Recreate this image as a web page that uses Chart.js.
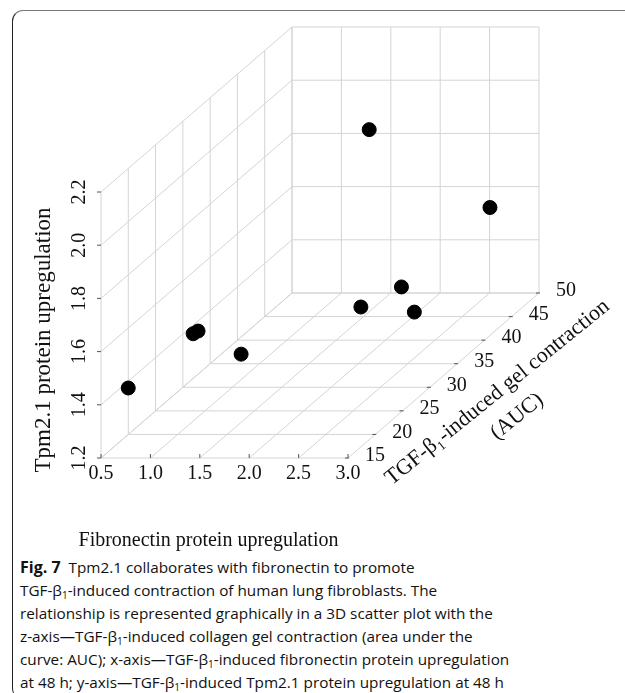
<!DOCTYPE html>
<html>
<head>
<meta charset="utf-8">
<script src="https://cdn.jsdelivr.net/npm/chart.js@4.4.0/dist/chart.umd.min.js"></script>
<style>
  body { margin: 0; background: #fff; width: 625px; height: 693px; overflow: hidden; position: relative; }
  #frame { position: absolute; left: 12px; top: 10px; width: 700px; height: 688px;
           border-left: 1.5px solid #222; border-top: 1.5px solid #777; border-radius: 11px 0 0 11px; }
  #chart { position: absolute; left: 0; top: 0; }
  #caption { position: absolute; left: 20px; top: 556px; font-family: "Open Sans", sans-serif;
             font-size: 15.3px; line-height: 23px; color: #111; white-space: nowrap; }
  #caption b { font-weight: 700; font-size: 16px; }
  #caption sub { font-size: 10px; vertical-align: -3px; line-height: 0; }
</style>
</head>
<body>
<div id="frame"></div>
<canvas id="chart" width="625" height="555"></canvas>
<div id="caption">
  <b>Fig. 7</b>&nbsp; Tpm2.1 collaborates with fibronectin to promote<br>
  TGF-β<sub>1</sub>-induced contraction of human lung fibroblasts. The<br>
  relationship is represented graphically in a 3D scatter plot with the<br>
  z-axis—TGF-β<sub>1</sub>-induced collagen gel contraction (area under the<br>
  curve: AUC); x-axis—TGF-β<sub>1</sub>-induced fibronectin protein upregulation<br>
  at 48 h; y-axis—TGF-β<sub>1</sub>-induced Tpm2.1 protein upregulation at 48 h
</div>
<script>
// values (x: fibronectin, y: Tpm2.1, z: gel contraction AUC)
const fibronectin = [2.11, 2.78, 2.16, 1.86, 2.18, 0.88, 0.93, 1.20, 0.61]
const tpm21 = [2.08, 1.61, 1.40, 1.36, 1.27, 1.49, 1.50, 1.36, 1.41]
const auc = [35, 45, 40, 38, 42, 25, 25, 28, 18]

const xTicks = [0.5, 1.0, 1.5, 2.0, 2.5, 3.0]
const yTicks = [1.2, 1.4, 1.6, 1.8, 2.0, 2.2]
const zTicks = [15, 20, 25, 30, 35, 40, 45, 50]

const xMin = 0.5, xMax = 3.0, yMin = 1.2, yMax = 2.2, zMin = 15, zMax = 50
// oblique projection: depth (z) pushes up and to the right
const depthX = 191 / 247, depthY = 165 / 266
const projU = (x, z) => (x - xMin) / (xMax - xMin) + depthX * (z - zMin) / (zMax - zMin)
const projV = (y, z) => (y - yMin) / (yMax - yMin) + depthY * (z - zMin) / (zMax - zMin)

const points = fibronectin.map((x, i) => ({ x: projU(x, auc[i]), y: projV(tpm21[i], auc[i]) }))

const serif = '"Liberation Serif", "Times New Roman", serif'

const box3d = {
  id: 'box3d',
  beforeDatasetsDraw(chart) {
    const ctx = chart.ctx
    const sx = chart.scales.x, sy = chart.scales.y
    const P = (x, y, z) => [sx.getPixelForValue(projU(x, z)), sy.getPixelForValue(projV(y, z))]
    const line = (a, b, color, w) => {
      ctx.beginPath()
      ctx.strokeStyle = color
      ctx.lineWidth = w || 1
      ctx.moveTo(a[0], a[1])
      ctx.lineTo(b[0], b[1])
      ctx.stroke()
    }
    const grid = '#d4d4d4'
    ctx.save()
    // back wall (z = max)
    xTicks.forEach(x => line(P(x, yMin, zMax), P(x, yMax, zMax), grid))
    yTicks.forEach(y => line(P(xMin, y, zMax), P(xMax, y, zMax), grid))
    // left wall (x = min)
    zTicks.forEach(z => line(P(xMin, yMin, z), P(xMin, yMax, z), grid))
    yTicks.forEach(y => line(P(xMin, y, zMin), P(xMin, y, zMax), grid))
    // floor (y = min)
    xTicks.forEach(x => line(P(x, yMin, zMin), P(x, yMin, zMax), grid))
    zTicks.forEach(z => line(P(xMin, yMin, z), P(xMax, yMin, z), grid))

    // tick marks
    const tick = '#555'
    xTicks.forEach(x => { const p = P(x, yMin, zMin); line([p[0], p[1]], [p[0], p[1] - 4], tick) })
    yTicks.forEach(y => { const p = P(xMin, y, zMin); line([p[0] - 4, p[1]], [p[0], p[1]], tick) })
    zTicks.forEach(z => { const p = P(xMax, yMin, z); line([p[0] - 3, p[1]], [p[0] + 1, p[1]], tick) })

    // tick labels
    ctx.fillStyle = '#111'
    ctx.font = '20px ' + serif
    ctx.textAlign = 'center'
    ctx.textBaseline = 'middle'
    xTicks.forEach(x => { const p = P(x, yMin, zMin); ctx.fillText(x.toFixed(1), p[0], p[1] + 16) })
    yTicks.forEach(y => {
      const p = P(xMin, y, zMin)
      ctx.save(); ctx.translate(p[0] - 21, p[1]); ctx.rotate(-Math.PI / 2)
      ctx.fillText(y.toFixed(1), 0, 0); ctx.restore()
    })
    ctx.textAlign = 'left'
    zTicks.forEach(z => { const p = P(xMax, yMin, z); ctx.fillText(String(z), p[0] + 17, p[1] - 2) })

    // axis titles
    ctx.textAlign = 'center'
    ctx.font = '20px ' + serif
    const xl = P((xMin + xMax) / 2, yMin, zMin)
    ctx.fillText('Fibronectin protein upregulation', xl[0] - 16, xl[1] + 83)
    const yl = P(xMin, (yMin + yMax) / 2, zMin)
    ctx.save(); ctx.translate(yl[0] - 57, yl[1] + 15); ctx.rotate(-Math.PI / 2)
    ctx.font = '23px ' + serif
    ctx.fillText('Tpm2.1 protein upregulation', 0, 0); ctx.restore()
    const zl = P(xMax, yMin, (zMin + zMax) / 2)
    ctx.save(); ctx.translate(zl[0] + 54, zl[1] + 17); ctx.rotate(-39 * Math.PI / 180)
    ctx.font = '22px ' + serif
    ctx.fillText('TGF-β₁-induced gel contraction', 0, 0)
    ctx.fillText('(AUC)', 0, 31)
    ctx.restore()
    ctx.restore()
  }
}

new Chart(document.getElementById('chart'), {
  type: 'scatter',
  data: {
    datasets: [{
      data: points,
      backgroundColor: '#000',
      borderColor: '#000',
      pointRadius: 7,
      pointHoverRadius: 7
    }]
  },
  options: {
    responsive: false,
    animation: false,
    events: [],
    clip: false,
    layout: { padding: 0, autoPadding: false },
    plugins: { legend: { display: false }, tooltip: { enabled: false } },
    scales: {
      x: { type: 'linear', display: false, min: -101 / 247, max: -101 / 247 + 625 / 247 },
      y: { type: 'linear', display: false, min: 458 / 266 - 555 / 266, max: 458 / 266 }
    }
  },
  plugins: [box3d]
})
</script>
</body>
</html>
